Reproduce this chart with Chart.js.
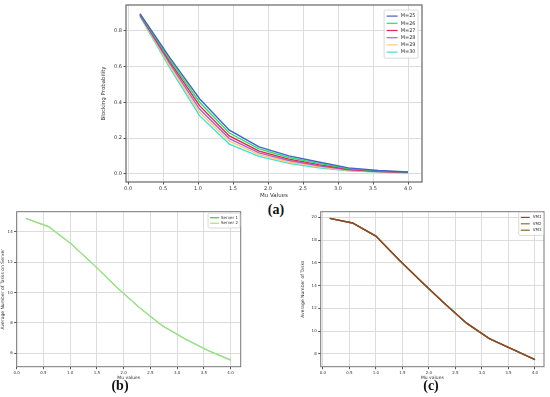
<!DOCTYPE html>
<html>
<head>
<meta charset="utf-8">
<script src="https://cdn.jsdelivr.net/npm/chart.js@4/dist/chart.umd.min.js"></script>
<style>
  html, body { margin:0; padding:0; background:#fff; width:550px; height:397px; overflow:hidden; }
  canvas { position:absolute; }
  .lab { position:absolute; font-family:"Liberation Serif", serif; font-weight:bold; font-size:14px; color:#111; transform:translate(-50%,-50%); }
</style>
</head>
<body>
<canvas id="ca" width="330" height="200" style="left:100px;top:0px;width:330px;height:200px"></canvas>
<canvas id="cb" width="250" height="180" style="left:0px;top:205px;width:250px;height:180px"></canvas>
<canvas id="cc" width="250" height="180" style="left:300px;top:205px;width:250px;height:180px"></canvas>
<div class="lab" style="left:276px;top:210px">(a)</div>
<div class="lab" style="left:120px;top:386px">(b)</div>
<div class="lab" style="left:431px;top:386px">(c)</div>
<script>
// ---------- data (a) ----------
const aX = [0.17, 0.596, 1.021, 1.447, 1.872, 2.298, 2.723, 3.149, 3.574, 4.0];
const aLabels = ['M=25', 'M=26', 'M=27', 'M=28', 'M=29', 'M=30'];
const aM25 = [0.895, 0.650, 0.420, 0.244, 0.150, 0.100, 0.066, 0.033, 0.018, 0.010];
const aM26 = [0.892, 0.638, 0.400, 0.228, 0.139, 0.091, 0.058, 0.029, 0.016, 0.009];
const aM27 = [0.889, 0.627, 0.381, 0.212, 0.127, 0.082, 0.051, 0.025, 0.014, 0.008];
const aM28 = [0.886, 0.616, 0.362, 0.197, 0.117, 0.074, 0.045, 0.022, 0.012, 0.007];
const aM29 = [0.883, 0.604, 0.344, 0.182, 0.107, 0.066, 0.039, 0.019, 0.011, 0.006];
const aM30 = [0.880, 0.592, 0.325, 0.166, 0.097, 0.058, 0.034, 0.017, 0.010, 0.005];
const aXTicks = [0, 0.5, 1.0, 1.5, 2.0, 2.5, 3.0, 3.5, 4.0];
const aYTicks = [0, 0.2, 0.4, 0.6, 0.8];

// ---------- data (b) ----------
const bX = [0.17, 0.6, 1.02, 1.45, 1.87, 2.3, 2.72, 3.15, 3.57, 4.0];
const bLabels = ['Server 1', 'Server 2'];
const bServer1 = [14.88, 14.33, 13.20, 11.80, 10.35, 9.00, 7.82, 6.95, 6.20, 5.56];
const bServer2 = [14.88, 14.33, 13.20, 11.80, 10.35, 9.00, 7.82, 6.95, 6.20, 5.56];
const bXTicks = [0, 0.5, 1.0, 1.5, 2.0, 2.5, 3.0, 3.5, 4.0];
const bYTicks = [6, 8, 10, 12, 14];

// ---------- data (c) ----------
const cX = [0.13, 0.56, 1.0, 1.43, 1.86, 2.29, 2.71, 3.14, 3.57, 4.0];
const cLabels = ['VM1', 'VM2', 'VM3'];
const cVM1 = [19.90, 19.50, 18.35, 16.30, 14.35, 12.45, 10.70, 9.35, 8.42, 7.50];
const cVM2 = [19.90, 19.50, 18.35, 16.30, 14.35, 12.45, 10.70, 9.35, 8.42, 7.50];
const cVM3 = [19.90, 19.50, 18.35, 16.30, 14.35, 12.45, 10.70, 9.35, 8.42, 7.50];
const cXTicks = [0, 0.5, 1.0, 1.5, 2.0, 2.5, 3.0, 3.5, 4.0];
const cYTicks = [8, 10, 12, 14, 16, 18, 20];

const FONT = 'DejaVu Sans';

const framePlugin = {
  id: 'frame',
  afterDraw(chart, args, o) {
    const { ctx, chartArea: ca } = chart;
    ctx.save();
    ctx.strokeStyle = o.color || '#555';
    ctx.lineWidth = o.lw || 1;
    ctx.strokeRect(ca.left, ca.top, ca.right - ca.left, ca.bottom - ca.top);
    ctx.restore();
  }
};

const legendPlugin = {
  id: 'mlLegend',
  afterDraw(chart, args, o) {
    const { ctx, chartArea: ca } = chart;
    const ds = chart.data.datasets;
    ctx.save();
    ctx.font = o.size + 'px "' + FONT + '"';
    const tw = Math.max(...ds.map(d => ctx.measureText(d.label).width));
    const w = o.pad * 2 + o.lineLen + o.gap + tw;
    const h = o.pad * 2 + ds.length * o.rowH;
    const x = ca.right - o.dx - w, y = ca.top + o.dy;
    ctx.fillStyle = 'rgba(255,255,255,0.85)';
    ctx.strokeStyle = '#d0d0d0';
    ctx.lineWidth = 0.8;
    ctx.beginPath();
    if (ctx.roundRect) ctx.roundRect(x, y, w, h, 1.5); else ctx.rect(x, y, w, h);
    ctx.fill(); ctx.stroke();
    ds.forEach((d, i) => {
      const yy = y + o.pad + o.rowH * (i + 0.5);
      ctx.strokeStyle = d.borderColor;
      ctx.lineWidth = o.lw;
      ctx.beginPath();
      ctx.moveTo(x + o.pad, yy);
      ctx.lineTo(x + o.pad + o.lineLen, yy);
      ctx.stroke();
      ctx.fillStyle = '#333';
      ctx.textBaseline = 'middle';
      ctx.textAlign = 'left';
      ctx.fillText(d.label, x + o.pad + o.lineLen + o.gap, yy);
    });
    ctx.restore();
  }
};

function axis(min, max, ticks, dec, title, fs, tfs, size, isX, titlePad) {
  return {
    type: 'linear',
    min: min, max: max,
    afterBuildTicks: s => { s.ticks = ticks.map(v => ({ value: v })); },
    afterFit: s => { if (isX) s.height = size; else s.width = size; },
    ticks: {
      autoSkip: false, maxRotation: 0, padding: 1.5,
      font: { family: FONT, size: fs }, color: '#333',
      callback: v => Number(v).toFixed(dec)
    },
    grid: { color: '#dcdcdc', lineWidth: 1, tickLength: 2.5, tickColor: '#555', drawTicks: true },
    border: { display: false },
    title: { display: true, text: title, font: { family: FONT, size: tfs }, color: '#333', padding: titlePad }
  };
}

function series(xs, ys, label, color, lw, order) {
  return {
    label: label,
    data: xs.map((x, i) => ({ x: x, y: ys[i] })),
    borderColor: color, backgroundColor: color,
    borderWidth: lw, pointRadius: 0, tension: 0, fill: false,
    order: order || 0
  };
}

function base(datasets, scales, padding, legendOpts, frameOpts) {
  return {
    type: 'line',
    data: { datasets: datasets },
    options: {
      responsive: false, animation: false, maintainAspectRatio: false,
      devicePixelRatio: 1,
      layout: { padding: padding },
      scales: scales,
      plugins: {
        legend: { display: false }, tooltip: { enabled: false },
        mlLegend: legendOpts, frame: frameOpts
      }
    },
    plugins: [framePlugin, legendPlugin]
  };
}

// (a)
const aColors = ['#4563c7', '#1fe36a', '#e0284a', '#b061cc', '#ffc878', '#3fe3cf'];
const aSeries = [aM25, aM26, aM27, aM28, aM29, aM30];
new Chart(document.getElementById('ca'), base(
  aSeries.map((s, i) => series(aX, s, aLabels[i], aColors[i], 1.4, 0)),
  {
    x: axis(-0.03, 4.2, aXTicks, 1, 'Mu Values', 5, 5.5, 18, true, { top: 0, bottom: 1 }),
    y: axis(-0.046, 0.944, aYTicks, 1, 'Blocking Probability', 5, 5.5, 26, false, { top: 0, bottom: 4 })
  },
  { left: 0, right: 8, top: 5, bottom: 0 },
  { size: 5, pad: 2.5, rowH: 7.2, lineLen: 11, gap: 3, dx: 4, dy: 5, lw: 1.2 },
  { color: '#666', lw: 1.2 }
));

// (b)
const bColors = ['#5cb82a', '#9be38a'];
new Chart(document.getElementById('cb'), base(
  [series(bX, bServer1, bLabels[0], bColors[0], 1.0, 1), series(bX, bServer2, bLabels[1], bColors[1], 1.4, 0)],
  {
    x: axis(0, 4.19, bXTicks, 1, 'Mu values', 4, 4.5, 18.3, true, { top: 0, bottom: 4.5 }),
    y: axis(5.12, 15.32, bYTicks, 0, 'Average Number of Tasks on Server', 4, 4.5, 16.7, false, { top: 0, bottom: 2 })
  },
  { left: 0, right: 9.3, top: 6.7, bottom: 0 },
  { size: 4, pad: 2, rowH: 5.5, lineLen: 9, gap: 2, dx: 0.7, dy: 1.3, lw: 1.2 },
  { color: '#777', lw: 1 }
));

// (c)
const cColors = ['#8b4a2b', '#a0663a', '#7d6a1e'];
new Chart(document.getElementById('cc'), base(
  [series(cX, cVM1, cLabels[0], cColors[0], 1.4, 0), series(cX, cVM2, cLabels[1], cColors[1], 1.4, 1), series(cX, cVM3, cLabels[2], cColors[2], 1.4, 2)],
  {
    x: axis(-0.04, 4.17, cXTicks, 1, 'Mu values', 4, 4.5, 18.3, true, { top: 0, bottom: 4.5 }),
    y: axis(6.88, 20.49, cYTicks, 0, 'Average Number of Tasks', 4, 4.5, 20.7, false, { top: 0, bottom: 3 })
  },
  { left: 0, right: 6, top: 6.7, bottom: 0 },
  { size: 4, pad: 2, rowH: 6.4, lineLen: 9, gap: 3, dx: 0.5, dy: 0.5, lw: 1.2 },
  { color: '#777', lw: 1 }
));
</script>
</body>
</html>
